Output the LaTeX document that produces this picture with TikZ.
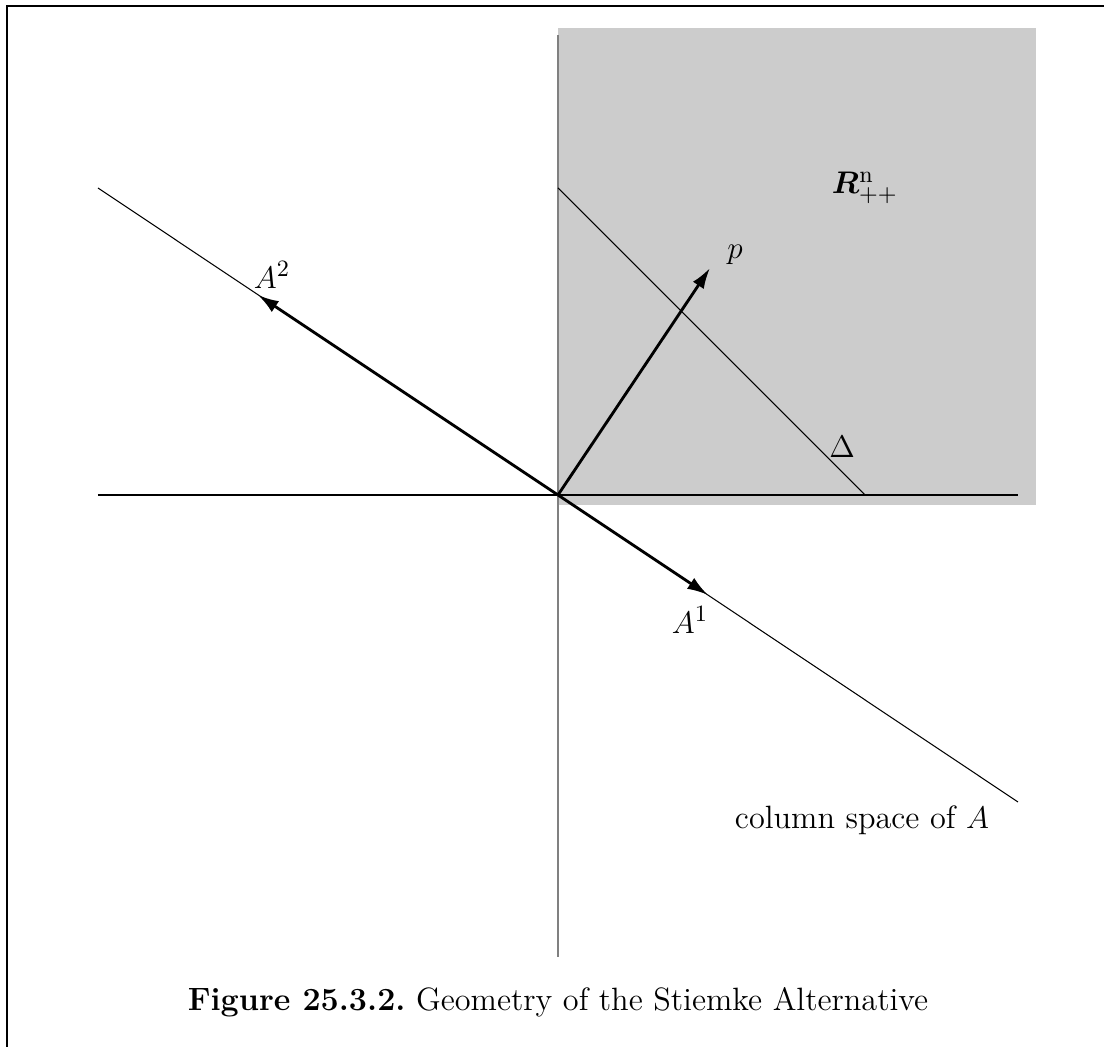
\documentclass[tikz,border=0pt]{standalone}
\usepackage{amsmath,amssymb,bm}
\usepackage{xcolor}
\usetikzlibrary{arrows.meta,positioning,calc}

\definecolor{coneFill}{gray}{0.8}

\tikzset{
  vec/.style={line width=1.1pt,-{Latex[length=8pt,width=5pt]}},
  thinline/.style={line width=0.4pt},
}

\begin{document}
\begin{tikzpicture}[x=1.35cm,y=1.35cm,font=\fontsize{12.4}{15}\selectfont]
  \useasboundingbox (-5.58,-5.52) rectangle (5.46,4.95);
  % frame
  \draw[line width=0.8pt] (-5.51,-5.52) -- (-5.51,4.89) -- (5.46,4.89);
  % positive orthant
  \fill[coneFill] (0,-0.1) rectangle (4.78,4.67);
  % axes
  \coordinate (O) at (0,0);
  \coordinate (xl) at (-4.6,0);
  \coordinate (xr) at (4.6,0);
  \coordinate (yt) at (0,4.6);
  \coordinate (yb) at (0,-4.62);
  \draw[thinline] (xl) -- (xr);
  \draw[thinline,gray] (yb) -- (yt);
  % column space
  \coordinate (cl) at (-4.6,3.07);
  \coordinate (cr) at (4.6,-3.07);
  \draw[thinline] (cl) -- (cr);
  % simplex
  \coordinate (dt) at (0,3.07);
  \coordinate (dr) at (3.07,0);
  \draw[thinline] (dt) -- (dr);
  % vectors
  \coordinate (a1) at (1.5,-1);
  \coordinate (a2) at (-3,2);
  \coordinate (p) at (1.52,2.27);
  \draw[vec] (O) -- (a1);
  \draw[vec] (O) -- (a2);
  \draw[vec] (O) -- (p);
  % labels
  \node (la1) at (1.32,-1.25) {$A^1$};
  \node (la2) at (-2.86,2.2) {$A^2$};
  \node (lp) at (1.77,2.4) {$p$};
  \node (ldelta) at (2.84,0.48) {$\Delta$};
  \node (lcone) at (3.07,3.07) {$\bm{R}^{\mathrm{n}}_{++}$};
  \node (lcol) at (3.04,-3.25) {column space of $A$};
  \node (caption) at (0,-5.07) {\textbf{Figure 25.3.2.}\ Geometry of the Stiemke Alternative};
\end{tikzpicture}
\end{document}
